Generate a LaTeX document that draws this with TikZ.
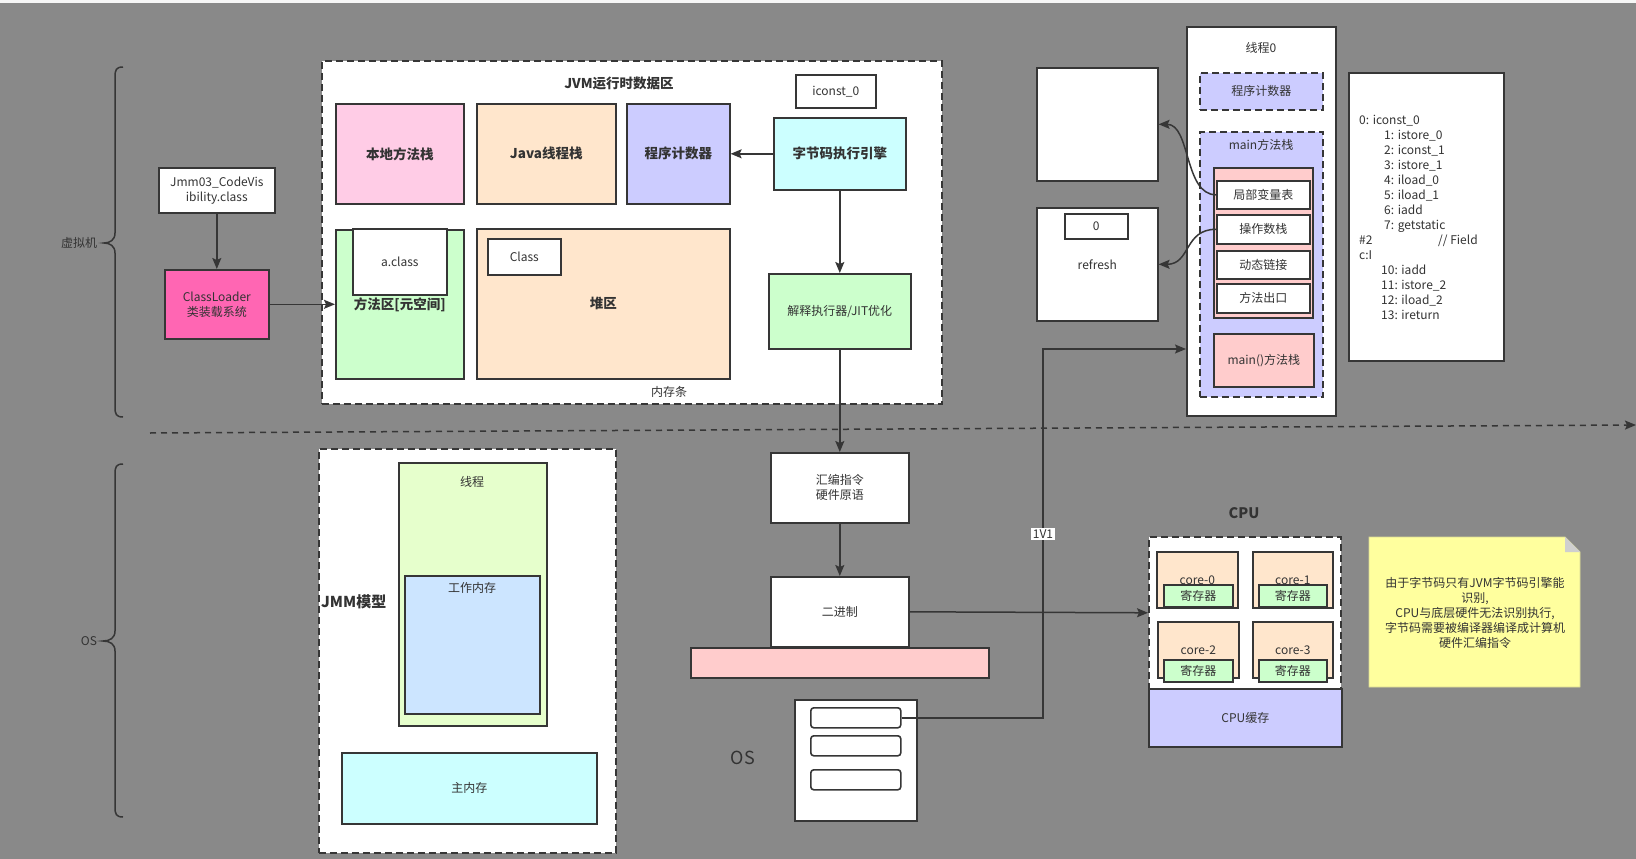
\documentclass[tikz,border=0pt]{standalone}
\usepackage{fontspec}
\setmainfont{Noto Sans CJK SC}
\usetikzlibrary{arrows.meta}
\definecolor{bg}{HTML}{898989}
\definecolor{ln}{HTML}{363636}
\definecolor{tx}{HTML}{333333}
\definecolor{cpink}{HTML}{FFCCE6}
\definecolor{corange}{HTML}{FFE6CC}
\definecolor{cviolet}{HTML}{CCCCFF}
\definecolor{ccyan}{HTML}{CCFFFF}
\definecolor{cgreen}{HTML}{CCFFCC}
\definecolor{chot}{HTML}{FF66B3}
\definecolor{clime}{HTML}{E6FFCC}
\definecolor{cblue}{HTML}{CCE5FF}
\definecolor{crose}{HTML}{FFCCCC}
\definecolor{cnote}{HTML}{FFFF9E}
\definecolor{cfold}{HTML}{CFCFCF}
\newcommand\myfs[1]{\fontsize{#1pt}{\dimexpr#1pt*5/4\relax}\selectfont}
\newcommand\bx[7][]{\node[box,minimum width={(#4)-(#2)},minimum height={(#5)-(#3)},#1] (#6) at (#2,#3) {#7};}
\begin{document}
\begin{tikzpicture}[x=1pt,y=-1pt,
  every node/.style={text=tx},
  box/.style={draw=ln, line width=1.6pt, fill=white, align=center, inner sep=0pt, anchor=north west, font=\myfs{12}},
  dbox/.style={dash pattern=on 7pt off 4pt},
  bold/.style={font=\myfs{13.5}\bfseries},
  lbl/.style={inner sep=0pt, font=\myfs{12}, align=center},
  arr/.style={draw=ln, line width=1.5pt, -{Stealth[length=11pt,width=9pt,inset=2pt]}},
  brace/.style={draw=ln, line width=1.5pt},
]
\useasboundingbox (0,0) rectangle (1636,859);
\fill[bg] (0,0) rectangle (1636,859);
\fill[white!93!gray] (0,0) rectangle (1636,3);

% braces
\draw[brace] (123,67) .. controls (116,67) and (115,70) .. (115,77) -- (115,233)
  .. controls (115,240) and (110,243) .. (104,243)
  .. controls (110,243) and (115,246) .. (115,253) -- (115,407)
  .. controls (115,414) and (116,417) .. (123,417);
\node[lbl] (vmlabel) at (79,243) {虚拟机};
\draw[brace] (123,464) .. controls (116,464) and (115,467) .. (115,474) -- (115,631)
  .. controls (115,638) and (110,641) .. (103,641)
  .. controls (110,641) and (115,644) .. (115,651) -- (115,807)
  .. controls (115,814) and (116,817) .. (123,817);
\node[lbl] (oslabel) at (89,641) {OS};

% separator
\coordinate (sepL) at (150,433);
\coordinate (sepR) at (1636,425);
\draw[arr, dash pattern=on 6pt off 5pt] (sepL) -- (sepR);

% JVM runtime area
\bx[dbox]{321}{60}{941}{403}{jvm}{}
\node[bold] (jvmtitle) at (619,83) {JVM运行时数据区};
\bx{795}{74}{875}{107}{iconst}{iconst\_0}
\bx[fill=cpink,bold]{335}{103}{463}{203}{nat}{本地方法栈}
\bx[fill=corange,bold]{476}{103}{615}{203}{jstack}{Java线程栈}
\bx[fill=cviolet,bold]{626}{103}{729}{203}{pc}{程序计数器}
\bx[fill=ccyan,bold]{773}{117}{905}{189}{engine}{字节码执行引擎}
\bx[fill=cgreen,bold]{335}{229}{463}{378}{method}{方法区[元空间]}
\bx{352}{228}{446}{294}{aclass}{a.class}
\bx[fill=corange,bold]{476}{228}{729}{378}{heap}{堆区}
\bx{487}{238}{560}{274}{classbox}{Class}
\bx[fill=cgreen]{768}{273}{910}{348}{jit}{解释执行器/JIT优化}
\node[lbl] (memstrip) at (669,392) {内存条};

% class loading
\bx{158}{167}{274}{212}{jmmfile}{Jmm03\_CodeVis\\ibility.class}
\bx[fill=chot]{164}{269}{268}{338}{loader}{ClassLoader\\类装载系统}
\draw[arr] (jmmfile.south) -- (loader.north);
\draw[arr] (loader.east) -- (method.west);
\draw[arr] (engine.west) -- (pc.east);
\draw[arr] (engine.south) -- (jit.north);

% OS side
\bx{770}{452}{908}{522}{asm}{汇编指令\\硬件原语}
\bx{770}{576}{908}{646}{bin}{二进制}
\bx[fill=crose]{690}{647}{988}{677}{bar}{}
\draw[arr] (jit.south) -- (asm.north);
\draw[arr] (asm.south) -- (bin.north);
\bx{794}{699}{916}{820}{osbox}{}
\bx[rounded corners=3pt]{810}{707}{900}{727}{r1}{}
\bx[rounded corners=3pt]{810}{735}{900}{755}{r2}{}
\bx[rounded corners=3pt]{810}{769}{900}{789}{r3}{}
\node[inner sep=0pt, font=\myfs{18}] (osbig) at (743,758) {OS};

% JMM
\bx[dbox]{318}{448}{615}{852}{jmm}{}
\node[anchor=west, inner sep=0pt, font=\myfs{15}\bfseries] (jmmtitle) at (321,602) {JMM模型};
\bx[fill=clime]{398}{462}{546}{725}{thread}{}
\node[lbl] (threadt) at (472,482) {线程};
\bx[fill=cblue]{404}{575}{539}{713}{work}{}
\node[lbl] (workt) at (472,588) {工作内存};
\bx[fill=ccyan]{341}{752}{596}{823}{mainmem}{主内存}

% thread 0
\bx{1036}{67}{1157}{180}{blank}{}
\bx{1036}{207}{1157}{320}{refresh}{refresh}
\bx{1064}{213}{1127}{238}{zero}{0}
\bx{1186}{26}{1335}{415}{thr0}{}
\node[lbl] (thr0t) at (1261,48) {线程0};
\bx[dbox,fill=cviolet]{1199}{72}{1322}{109}{pc2}{程序计数器}
\bx[dbox,fill=cviolet]{1199}{131}{1322}{396}{mstack}{}
\node[lbl] (mstackt) at (1261,145) {main方法栈};
\bx[fill=crose]{1213}{167}{1312}{317}{frame}{}
\bx{1216}{180}{1309}{208}{lv}{局部变量表}
\bx{1216}{214}{1309}{243}{ops}{操作数栈}
\bx{1216}{250}{1309}{278}{dl}{动态链接}
\bx{1216}{283}{1309}{312}{mexit}{方法出口}
\bx[fill=crose]{1213}{333}{1313}{386}{mainm}{main()方法栈}
\draw[arr] (lv.west) .. controls +(-32,0) and +(32,0) .. (blank.east);
\draw[arr] (ops.west) .. controls +(-32,0) and +(32,0) .. (refresh.east);

% bytecode listing
\bx{1348}{72}{1503}{360}{bcode}{}
\node[anchor=north west, inner sep=0pt, align=left, font=\myfs{12}] (bctext) at (1359,115) {%
0: iconst\_0\\
\hspace*{25pt}1: istore\_0\\
\hspace*{25pt}2: iconst\_1\\
\hspace*{25pt}3: istore\_1\\
\hspace*{25pt}4: iload\_0\\
\hspace*{25pt}5: iload\_1\\
\hspace*{25pt}6: iadd\\
\hspace*{25pt}7: getstatic\\
\makebox[79pt][l]{\#2}// Field\\
c:I\\
\hspace*{22pt}10: iadd\\
\hspace*{22pt}11: istore\_2\\
\hspace*{22pt}12: iload\_2\\
\hspace*{22pt}13: ireturn};

% 1V1 connector
\coordinate (k2) at (1043,349);
\draw[arr] (r1.east) -| (k2) -- (k2 -| thr0.west);
\node[fill=white, inner sep=1.5pt, font=\myfs{12}] (v11) at (1043,534) {1V1};

% CPU
\node[inner sep=0pt, font=\myfs{14.5}\bfseries] (cputitle) at (1244,513) {CPU};
\bx[dbox]{1148}{536}{1340}{688}{cpubox}{}
\bx[fill=corange]{1156}{551}{1237}{607}{core0}{core-0}
\bx[fill=corange]{1252}{551}{1332}{607}{core1}{core-1}
\bx[fill=corange]{1157}{621}{1238}{677}{core2}{core-2}
\bx[fill=corange]{1252}{621}{1332}{677}{core3}{core-3}
\bx[fill=cgreen]{1163}{584}{1232}{606}{reg0}{寄存器}
\bx[fill=cgreen]{1258}{584}{1326}{606}{reg1}{寄存器}
\bx[fill=cgreen]{1163}{659}{1232}{681}{reg2}{寄存器}
\bx[fill=cgreen]{1258}{659}{1326}{681}{reg3}{寄存器}
\bx[fill=cviolet]{1148}{688}{1341}{746}{cache}{CPU缓存}
\draw[arr] (bin.east) -- (cpubox.west);

% note
\path[fill=cnote, draw=cnote!70!gray, line width=0.8pt] (1369,537) -- (1565,537) -- (1580,552) -- (1580,687) -- (1369,687) -- cycle;
\fill[cfold] (1565,537) -- (1565,552) -- (1580,552) -- cycle;
\node[lbl] (notetext) at (1475,613) {由于字节码只有JVM字节码引擎能\\识别,\\CPU与底层硬件无法识别执行,\\字节码需要被编译器编译成计算机\\硬件汇编指令};
\end{tikzpicture}
\end{document}
